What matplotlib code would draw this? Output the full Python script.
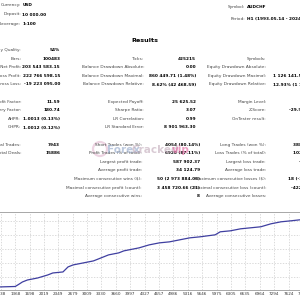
import matplotlib
matplotlib.use('Agg')
import matplotlib.pyplot as plt
from matplotlib.patches import Circle

# header info
top_labels = ['Currency:', 'Deposit:', 'Leverage:']
top_values = ['USD', '10 000.00', '1:100']
sym_labels = ['Symbol:', 'Period:']
sym_values = ['AUDCHF', 'H1 (1993.05.14 - 2024.05.10)']

# results table, three columns of label/value pairs (None = empty row)
col1_labels = ['History Quality:', 'Bars:', 'Total Net Profit:', 'Gross Profit:', 'Gross Loss:', None,
               'Profit Factor:', 'Recovery Factor:', 'AHPR:', 'GHPR:', None,
               'Total Trades:', 'Total Deals:']
col1_values = ['54%', '100483', '203 543 583.15', '222 766 598.15', '-19 223 095.00', None,
               '11.59', '180.74', '1.0013 (0.13%)', '1.0012 (0.12%)', None,
               '7943', '15886']
col2_labels = [None, 'Ticks:', 'Balance Drawdown Absolute:', 'Balance Drawdown Maximal:',
               'Balance Drawdown Relative:', None,
               'Expected Payoff:', 'Sharpe Ratio:', 'LR Correlation:', 'LR Standard Error:', None,
               'Short Trades (won %):', 'Profit Trades (% of total):', 'Largest profit trade:',
               'Average profit trade:', 'Maximum consecutive wins ($):',
               'Maximal consecutive profit (count):', 'Average consecutive wins:']
col2_values = [None, '425215', '0.00', '860 449.71 (1.48%)', '8.62% (42 468.59)', None,
               '25 625.52', '3.07', '0.99', '8 901 963.30', None,
               '4054 (80.14%)', '6920 (87.11%)', '587 902.37', '34 124.79', '50 (2 973 884.06)',
               '3 458 720.66 (21)', '8']
col3_labels = [None, 'Symbols:', 'Equity Drawdown Absolute:', 'Equity Drawdown Maximal:',
               'Equity Drawdown Relative:', None,
               'Margin Level:', 'Z-Score:', 'OnTester result:', None, None,
               'Long Trades (won %):', 'Loss Trades (% of total):', 'Largest loss trade:',
               'Average loss trade:', 'Maximum consecutive losses ($):',
               'Maximal consecutive loss (count):', 'Average consecutive losses:']
col3_values = [None, '1', '0.00', '1 126 141.50 (12.93%)', '12.93% (1 126 141.50)', None,
               '', '-29.92 (99.74%)', '9443286.27', None, None,
               '3889 (94.16%)', '1023 (12.89%)', '-160 531.80', '-18 791.10', '18 (-344 713.80)',
               '-422 118.06 (9)', '2']

# balance curve (trades, balance in millions)
trades = [900, 945, 1363, 1456, 1526, 1642, 1875, 2107, 2223, 2456, 2572, 2688, 2921, 3153,
          3269, 3501, 3734, 3850, 4199, 4431, 4663, 4896, 5128, 5361, 5593, 5942, 6058,
          6290, 6523, 6755, 6987, 7220, 7452, 7685, 7943]
balance = [11.4, 11.4, 12.9, 20.0, 25.7, 31.4, 37.1, 45.7, 51.4, 54.3, 68.6, 74.3, 80.0, 85.7,
           91.4, 102.9, 108.6, 114.3, 122.9, 131.4, 137.1, 140.0, 145.7, 151.4, 154.3, 160.0,
           168.6, 171.4, 177.1, 180.0, 182.9, 191.4, 197.1, 200.0, 203.6]
xticks = [1038, 1368, 1698, 2019, 2349, 2679, 3009, 3330, 3660, 3997, 4327, 4657, 4986,
          5316, 5646, 5975, 6305, 6635, 6964, 7294, 7624, 7954]

fig = plt.figure(figsize=(3, 3), dpi=100)
W, H = 300.0, 300.0
fs = 3.1
lab_col = '#444444'


def put(x, y, s, ha='right', bold=False, size=fs, color=None):
    fig.text(x / W, 1 - y / H, s, ha=ha, va='center', fontsize=size,
             fontweight='bold' if bold else 'normal',
             color=color if color else ('black' if bold else lab_col))


for i, (l, v) in enumerate(zip(top_labels, top_values)):
    y = 5 + i * 9.5
    put(21, y, l)
    put(22.5, y, v, ha='left', bold=True)
for i, (l, v) in enumerate(zip(sym_labels, sym_values)):
    y = 7 + i * 11.5
    put(245, y, l)
    put(247, y, v, ha='left', bold=True)

put(145, 40, 'Results', ha='center', bold=True, size=4.6)

row0, step = 50, 8.6
for i, (l, v) in enumerate(zip(col1_labels, col1_values)):
    if l is None:
        continue
    y = row0 + i * step
    put(21, y, l)
    put(60, y, v, bold=True)
for i, (l, v) in enumerate(zip(col2_labels, col2_values)):
    if l is None:
        continue
    y = row0 + i * step
    put(144 if i < 11 else 142, y, l)
    put(196 if i < 11 else 200, y, v, bold=True)
for i, (l, v) in enumerate(zip(col3_labels, col3_values)):
    if l is None:
        continue
    y = row0 + i * step
    put(266, y, l)
    put(328, y, v, bold=True)

# watermark
logo = Circle((100 / W, 1 - 149 / H), 7 / W, transform=fig.transFigure,
              facecolor='none', edgecolor='#d9a0c0', lw=1.6, alpha=0.45)
fig.patches.append(logo)
fig.text(107 / W, 1 - 150 / H, 'Forex', fontsize=7.5, fontweight='bold', color='#8fa4c8',
         alpha=0.6, ha='left', va='center')
fig.text(131 / W, 1 - 150 / H, 'Cracked', fontsize=7.5, fontweight='bold', color='#c0a8b8',
         alpha=0.6, ha='left', va='center')
fig.text(172 / W, 1 - 150 / H, 'vip', fontsize=7.5, fontweight='bold', color='#e0609c',
         alpha=0.6, ha='left', va='center')

# balance chart
ax = fig.add_axes([-0.01, 1 - 290 / H, 1.02, 78 / H])
ax.plot(trades, balance, color='#3f3fa0', lw=0.9)
ax.set_xlim(945, 7935)
ax.set_ylim(2.9, 225)
ax.set_xticks(xticks)
ax.set_xticklabels([str(t) for t in xticks], fontsize=3, color='#333333')
ax.set_yticks([40, 80, 120, 160, 200])
ax.set_yticklabels([])
ax.tick_params(length=0, pad=1.5)
ax.grid(True, ls=(0, (2, 2)), color='#cccccc', lw=0.5)
for s in ['left', 'right']:
    ax.spines[s].set_visible(False)
for s in ['top', 'bottom']:
    ax.spines[s].set_color('#999999')
    ax.spines[s].set_linewidth(0.6)

plt.savefig('out.png', dpi=100)
plt.close()
